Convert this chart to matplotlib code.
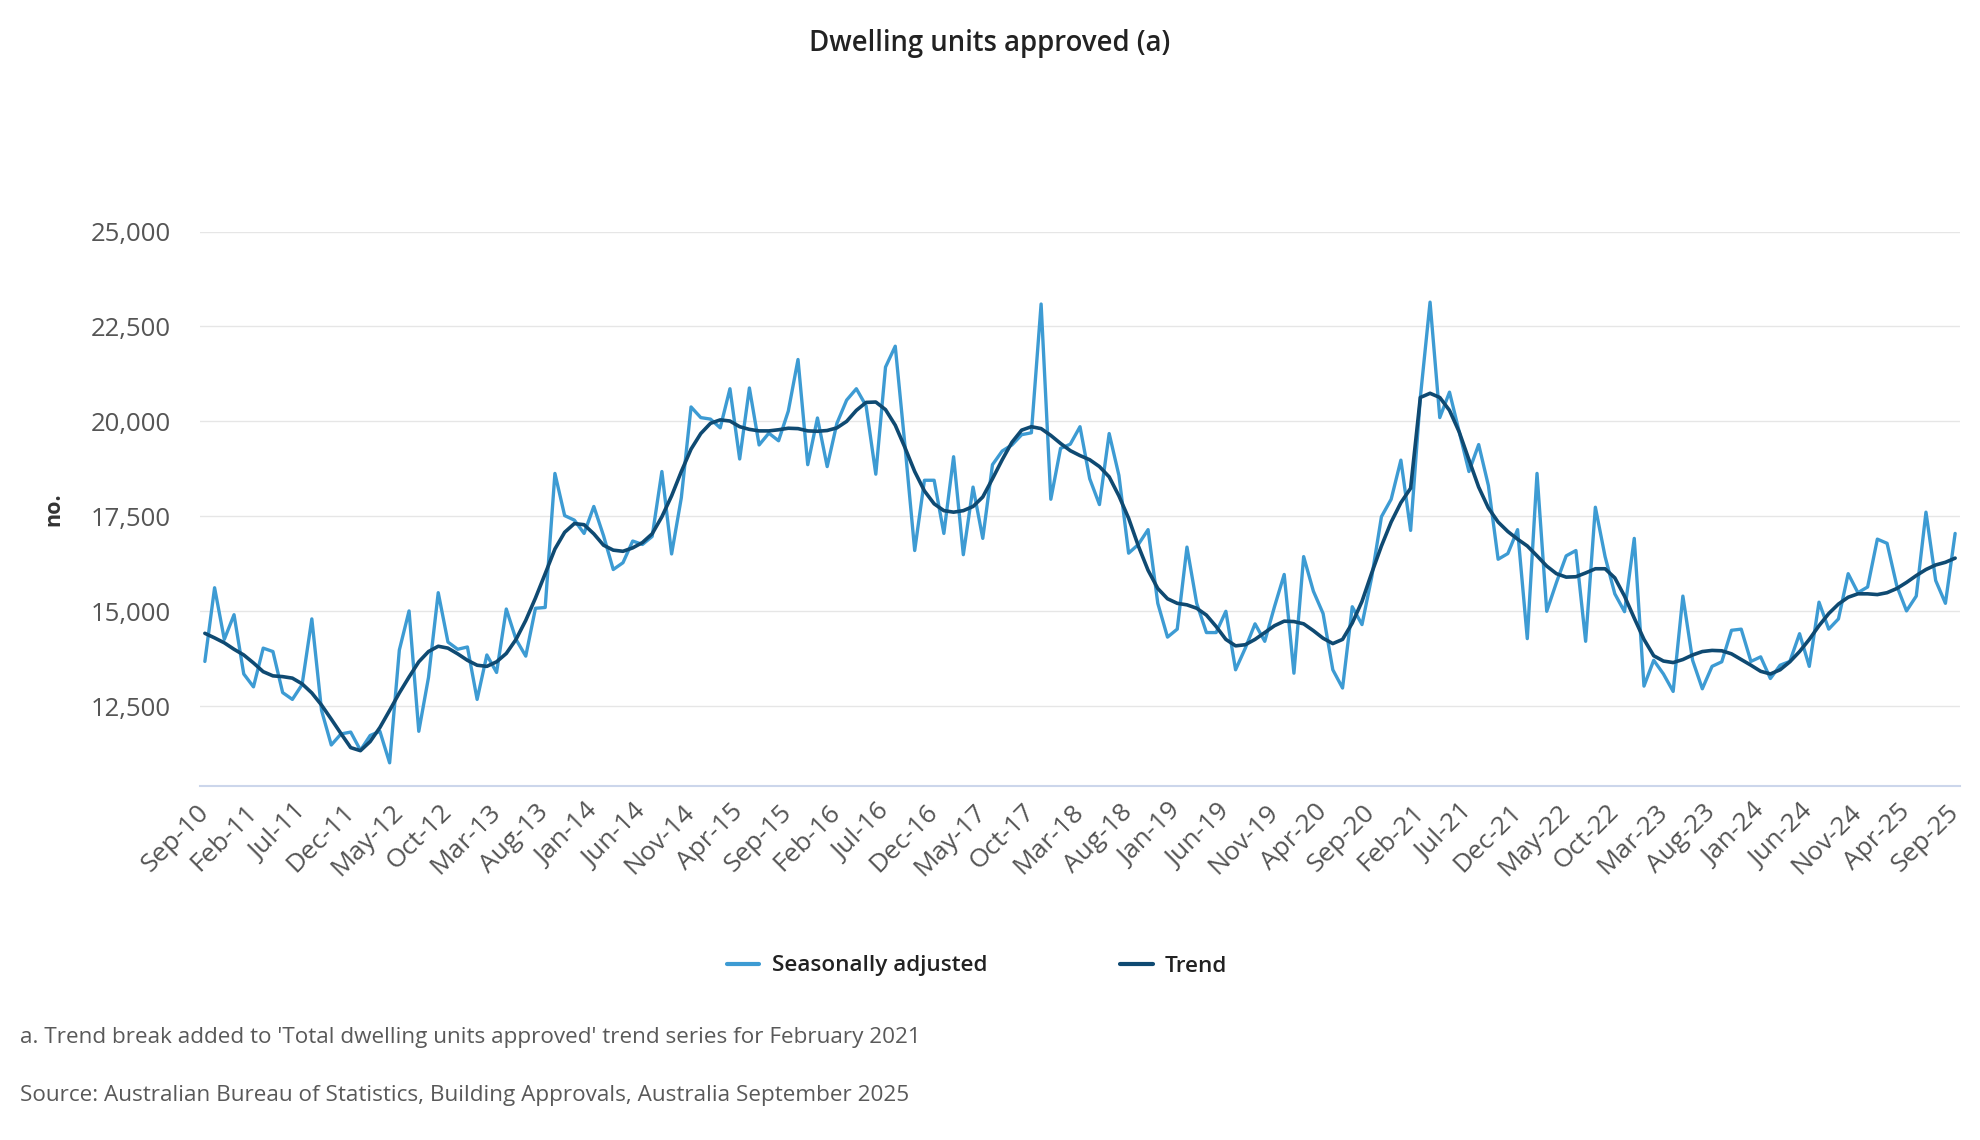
import matplotlib
matplotlib.use("Agg")
import matplotlib.pyplot as plt
from matplotlib.ticker import FuncFormatter, FixedLocator
import pandas as pd

plt.rcParams['font.family'] = ['Open Sans', 'DejaVu Sans']

months = pd.date_range("2010-09-01", "2025-09-01", freq="MS")

seasonally_adjusted = [
    13680, 15620, 14260, 14910, 13350, 13010, 14030, 13940, 12860, 12680,
    13070, 14800, 12390, 11480, 11770, 11820, 11340, 11730, 11840, 11010,
    13980, 15010, 11840, 13260, 15490, 14190, 14000, 14060, 12680, 13850,
    13390, 15060, 14260, 13820, 15080, 15100, 18630, 17520, 17400, 17050,
    17760, 16990, 16100, 16280, 16850, 16760, 16970, 18680, 16510, 17990,
    20380, 20100, 20060, 19830, 20860, 19010, 20880, 19380, 19690, 19490,
    20270, 21630, 18860, 20090, 18810, 19950, 20560, 20860, 20410, 18610,
    21430, 21980, 19360, 16600, 18450, 18450, 17050, 19070, 16490, 18270,
    16920, 18860, 19220, 19380, 19650, 19700, 23090, 17950, 19290, 19400,
    19860, 18490, 17810, 19680, 18580, 16530, 16760, 17150, 15210, 14320,
    14530, 16690, 15210, 14440, 14440, 15000, 13460, 14030, 14670, 14210,
    15120, 15970, 13370, 16440, 15530, 14940, 13460, 12980, 15120, 14650,
    15900, 17490, 17950, 18980, 17130, 20630, 23140, 20100, 20770, 19720,
    18680, 19390, 18310, 16370, 16520, 17150, 14280, 18630, 15000, 15760,
    16460, 16600, 14210, 17740, 16440, 15460, 14990, 16920, 13030, 13710,
    13350, 12890, 15400, 13710, 12960, 13550, 13670, 14500, 14530, 13680,
    13800, 13230, 13580, 13680, 14410, 13550, 15240, 14530, 14800, 15990,
    15490, 15640, 16900, 16790, 15670, 15010, 15400, 17610, 15810, 15210,
    17050,
]

trend = [
    14420, 14300, 14170, 14000, 13850, 13640, 13410, 13300, 13280, 13240,
    13090, 12850, 12530, 12160, 11780, 11410, 11330, 11570, 11940, 12390,
    12850, 13270, 13670, 13940, 14080, 14030, 13880, 13710, 13580, 13550,
    13670, 13890, 14260, 14760, 15350, 15990, 16640, 17080, 17310, 17280,
    17040, 16740, 16610, 16580, 16670, 16810, 17040, 17490, 18040, 18680,
    19270, 19680, 19950, 20040, 20010, 19860, 19790, 19750, 19750, 19780,
    19820, 19810, 19750, 19740, 19760, 19830, 20000, 20290, 20500, 20510,
    20310, 19900, 19310, 18680, 18170, 17830, 17650, 17610, 17650, 17760,
    18010, 18490, 18990, 19450, 19770, 19860, 19810, 19630, 19420, 19230,
    19100, 18990, 18810, 18540, 18040, 17450, 16720, 16080, 15600, 15330,
    15210, 15170, 15080, 14900, 14600, 14260, 14090, 14120, 14260, 14440,
    14620, 14740, 14730, 14670, 14490, 14290, 14150, 14260, 14690, 15260,
    16010, 16720, 17350, 17860, 18240, 20630, 20740, 20630, 20290, 19720,
    18990, 18270, 17720, 17350, 17100, 16900, 16720, 16460, 16190, 15990,
    15900, 15910, 16010, 16120, 16120, 15880, 15400, 14820, 14260, 13830,
    13690, 13650, 13730, 13850, 13940, 13970, 13960, 13880, 13730, 13580,
    13420, 13350, 13460, 13670, 13940, 14260, 14620, 14940, 15190, 15370,
    15460, 15460, 15440, 15490, 15600, 15760, 15940, 16100, 16220, 16290,
    16400,
]

tick_labels = [
    "Sep-10", "Feb-11", "Jul-11", "Dec-11", "May-12", "Oct-12", "Mar-13",
    "Aug-13", "Jan-14", "Jun-14", "Nov-14", "Apr-15", "Sep-15", "Feb-16",
    "Jul-16", "Dec-16", "May-17", "Oct-17", "Mar-18", "Aug-18", "Jan-19",
    "Jun-19", "Nov-19", "Apr-20", "Sep-20", "Feb-21", "Jul-21", "Dec-21",
    "May-22", "Oct-22", "Mar-23", "Aug-23", "Jan-24", "Jun-24", "Nov-24",
    "Apr-25", "Sep-25",
]
y_ticks = [12500, 15000, 17500, 20000, 22500, 25000]

title = "Dwelling units approved (a)"
footnote = "a. Trend break added to 'Total dwelling units approved' trend series for February 2021"
source = "Source: Australian Bureau of Statistics, Building Approvals, Australia September 2025"

W, H = 1980, 1140
fig = plt.figure(figsize=(W / 100, H / 100), dpi=100)
ax = fig.add_axes([200 / W, 1 - 786 / H, 1760 / W, (786 - 231.5) / H])

x = list(range(len(months)))
sa_color = "#3d9bd3"
tr_color = "#0f4a72"
l1, = ax.plot(x, seasonally_adjusted, color=sa_color, lw=2.4, solid_joinstyle="round",
              solid_capstyle="round", label="Seasonally adjusted", zorder=3)
l2, = ax.plot(x, trend, color=tr_color, lw=2.6, solid_joinstyle="round",
              solid_capstyle="round", label="Trend", zorder=4)

ax.set_xlim(-0.5, len(months) - 0.5)
ax.set_ylim(10400, 25000)

ax.yaxis.set_major_locator(FixedLocator(y_ticks))
ax.yaxis.set_major_formatter(FuncFormatter(lambda v, p: f"{int(v):,}"))
ax.grid(axis="y", color="#e6e6e6", lw=1.0)
ax.set_axisbelow(True)

tick_pos = [months.get_loc(pd.to_datetime("01-" + t, format="%d-%b-%y")) for t in tick_labels]
ax.set_xticks(tick_pos)
ax.set_xticklabels(tick_labels, rotation=45, ha="right", va="center", rotation_mode="anchor")

for s in ["top", "right", "left"]:
    ax.spines[s].set_visible(False)
ax.spines["bottom"].set_color("#ccd6eb")
ax.spines["bottom"].set_linewidth(1.5)

ax.tick_params(axis="y", length=0, pad=21, labelsize=18.5, labelcolor="#555555")
ax.tick_params(axis="x", length=0, pad=16, labelsize=19, labelcolor="#555555")

ax.set_ylabel("no.", fontsize=15.5, fontweight="bold", color="#333333")
ax.yaxis.set_label_coords(-(200 - 64) / 1760, 0.5)

fig.text(0.5, 1 - 44 / H, title, ha="center", va="center", fontsize=19.8,
         fontweight="semibold", color="#222222")

leg = fig.legend(handles=[l1, l2], loc="center", bbox_to_anchor=(977 / W, 1 - 966 / H),
                 ncol=2, frameon=False, fontsize=16.2, handlelength=1.45,
                 handletextpad=0.55, columnspacing=5.9)
for t in leg.get_texts():
    t.set_fontweight("semibold")
    t.set_color("#222222")
for h in leg.legend_handles:
    h.set_linewidth(3)

fig.text(20 / W, 1 - 1037 / H, footnote, ha="left", va="center", fontsize=16.2, color="#595959")
fig.text(20 / W, 1 - 1096 / H, source, ha="left", va="center", fontsize=16.2, color="#595959")

fig.savefig("out.png", dpi=100)
